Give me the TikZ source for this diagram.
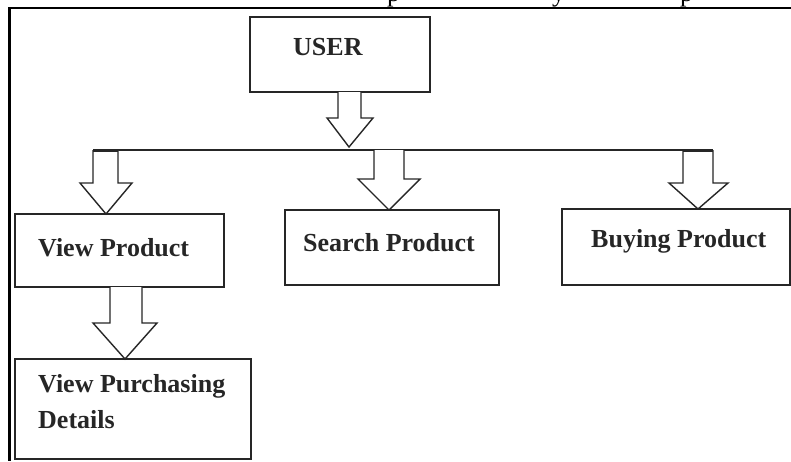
\documentclass[tikz,border=0pt]{standalone}
\usepackage{fontspec}
\setmainfont{Liberation Serif}
\begin{document}
\begin{tikzpicture}[x=1pt,y=-1pt,
  box/.style={draw=black!85, line width=1.6pt, fill=white, inner sep=0pt},
  lbl/.style={anchor=base west, inner sep=0pt, font=\fontsize{26}{30}\selectfont\bfseries, text=black!85},
  blockarrow/.style={draw=black!85, line width=1.4pt, fill=white, line join=miter},
  frag/.style={anchor=base west, inner sep=0pt, font=\fontsize{26}{30}\selectfont}]
\useasboundingbox (0,0) rectangle (791,461);
% clipped fragments of a text line above the frame
\begin{scope}
  \clip (0,0) rectangle (791,7);
  \node[frag] (f1) at (387,1) {p};
  \node[frag] (f2) at (552,1) {y};
  \node[frag] (f3) at (680,1) {p};
\end{scope}
% frame
\coordinate (ftl) at (9,8);
\coordinate (ftr) at (791,8);
\coordinate (fbl) at (9,461);
\draw[line width=2pt] (ftr) -- (ftl);
\draw[line width=3pt] (9,7) -- (fbl);
% boxes
\node[box, minimum width=180pt, minimum height=75pt] (user) at (340,54.5) {};
\node[box, minimum width=209pt, minimum height=73pt] (vp) at (119.5,250.5) {};
\node[box, minimum width=214pt, minimum height=75pt] (sp) at (392,247.5) {};
\node[box, minimum width=228pt, minimum height=76pt] (bp) at (676,247) {};
\node[box, minimum width=236pt, minimum height=100pt] (vpd) at (133,409) {};
% labels
\node[lbl] (tuser) at (293,55) {USER};
\node[lbl] (tvp) at (38,256) {View Product};
\node[lbl] (tsp) at (303,251) {Search Product};
\node[lbl] (tbp) at (591,247) {Buying Product};
\node[lbl] (tvpd1) at (38,392) {View Purchasing};
\node[lbl] (tvpd2) at (38,428) {Details};
% horizontal distribution line
\coordinate (hl) at (93,150);
\coordinate (hr) at (713,150);
\draw[line width=1.5pt, black!85] (hl) -- (hr);
% block arrows
\draw[blockarrow] (338,92) -- (338,118) -- (327,118) -- (349,147) -- (373,118) -- (361,118) -- (361,92);
\draw[blockarrow] (93,150) -- (93,183) -- (80,183) -- (106,214) -- (132,183) -- (118,183) -- (118,150);
\draw[blockarrow] (374,150) -- (374,179) -- (358,179) -- (389,210) -- (420,179) -- (404,179) -- (404,150);
\draw[blockarrow] (683,150) -- (683,183) -- (669,183) -- (698,209) -- (728,183) -- (713,183) -- (713,150);
\draw[blockarrow] (110,287) -- (110,323) -- (93,323) -- (125,359) -- (157,323) -- (142,323) -- (142,287);
% thick ends of the line
\draw[line width=3pt, black!85] (93,150) -- (118,150);
\draw[line width=3pt, black!85] (683,150) -- (713,150);
\end{tikzpicture}
\end{document}
